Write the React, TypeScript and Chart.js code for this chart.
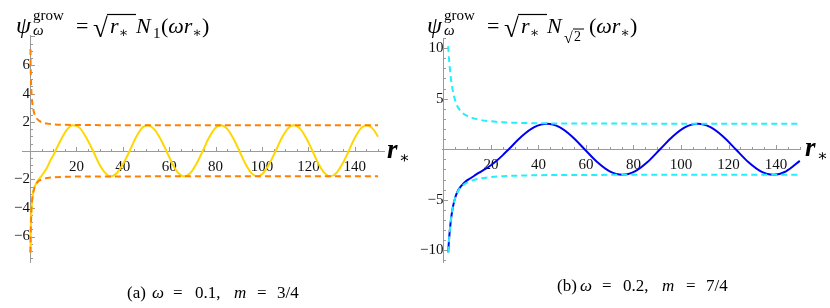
import React, { useEffect, useRef } from 'react';
import { Chart, registerables } from 'chart.js';

Chart.register(...registerables);

// ---------- Panel (a) ----------
const R_A = [0.2, 0.3, 0.5, 0.75, 1, 1.5, 2, 3, 4, 5, 6, 7.5, 9, 10, 10.98, 13.45, 15.93, 18.4, 21.3, 24.2, 27.15, 29.7, 32.2, 34.7, 37.46, 40.22, 42.98, 45.52, 48.06, 50.6, 53.32, 56.03, 58.75, 61.3, 63.85, 66.4, 69.1, 71.8, 74.49, 77.06, 79.63, 82.2, 84.87, 87.53, 90.2, 92.77, 95.33, 97.9, 100.57, 103.23, 105.9, 108.5, 111.1, 113.7, 116.37, 119.03, 121.7, 124.27, 126.83, 129.4, 132.07, 134.73, 137.4, 139.97, 142.53, 145.1, 147.7, 150];
const PSI_A = [-7.12, -5.81, -4.57, -3.78, -3.32, -2.81, -2.52, -2.18, -1.96, -1.75, -1.52, -1.13, -0.6, -0.34, 0, 0.81, 1.48, 1.79, 1.62, 0.93, 0, -0.89, -1.51, -1.79, -1.55, -0.89, 0, 0.89, 1.55, 1.785, 1.55, 0.89, 0, -0.89, -1.55, -1.785, -1.55, -0.89, 0, 0.89, 1.55, 1.785, 1.55, 0.89, 0, -0.89, -1.55, -1.785, -1.55, -0.89, 0, 0.89, 1.55, 1.785, 1.55, 0.89, 0, -0.89, -1.55, -1.785, -1.55, -0.89, 0, 0.89, 1.55, 1.785, 1.55, 0.99];
const R_ENV_A = [0.2, 0.3, 0.5, 0.75, 1, 1.5, 2, 3, 4, 5, 7.5, 10, 15, 25, 50, 100, 150];
const ENV_UP_A = [7.12, 5.82, 4.57, 3.79, 3.33, 2.84, 2.53, 2.24, 2.09, 2.0, 1.9, 1.855, 1.82, 1.8, 1.79, 1.785, 1.784];
const ENV_LO_A = [-7.12, -5.82, -4.57, -3.79, -3.33, -2.84, -2.53, -2.24, -2.09, -2.0, -1.9, -1.855, -1.82, -1.8, -1.79, -1.785, -1.784];
const X_TICKS_A = [20, 40, 60, 80, 100, 120, 140];
const Y_TICKS_A = [-6, -4, -2, 2, 4, 6];

// ---------- Panel (b) ----------
const R_B = [2, 2.4, 3, 3.5, 4, 5, 6, 7, 8, 9.2, 11, 13, 15, 17.5, 20, 22.5, 25, 27.5, 32.87, 38.23, 43.6, 48.87, 54.13, 59.4, 64.7, 70.0, 75.3, 80.6, 85.9, 91.2, 96.5, 101.8, 107.1, 112.4, 117.7, 123.0, 128.3, 133.6, 138.9, 144.2, 150];
const PSI_B = [-10.2, -8.8, -7.3, -6.4, -5.7, -4.75, -4.15, -3.78, -3.5, -3.22, -2.92, -2.62, -2.32, -1.97, -1.58, -1.12, -0.58, 0, 1.26, 2.18, 2.52, 2.18, 1.26, 0, -1.26, -2.18, -2.52, -2.18, -1.26, 0, 1.26, 2.18, 2.52, 2.18, 1.26, 0, -1.26, -2.18, -2.52, -2.18, -1.15];
const R_ENV_B = [2, 2.4, 3, 3.5, 4, 5, 6, 7, 8, 9, 10, 12, 15, 20, 25, 30, 40, 60, 100, 150];
const ENV_UP_B = [10.2, 8.8, 7.3, 6.4, 5.72, 4.78, 4.2, 3.85, 3.6, 3.42, 3.3, 3.1, 2.92, 2.76, 2.67, 2.62, 2.57, 2.54, 2.53, 2.52];
const ENV_LO_B = [-10.2, -8.8, -7.3, -6.4, -5.72, -4.78, -4.2, -3.85, -3.6, -3.42, -3.3, -3.1, -2.92, -2.76, -2.67, -2.62, -2.57, -2.54, -2.53, -2.52];
const X_TICKS_B = [20, 40, 60, 80, 100, 120, 140];
const Y_TICKS_B = [-10, -5, 5, 10];

const AXIS_COLOR = '#9a9a9a';
const LABEL_COLOR = '#111';
const SERIF = "'Liberation Serif', 'DejaVu Serif', serif";

type Panel = {
  r: number[]; psi: number[]; rEnv: number[]; envUp: number[]; envLo: number[];
  xTicks: number[]; yTicks: number[];
  xMin: number; xMax: number; yMin: number; yMax: number;
  xMinor: number; xMajor: number; yMinor: number; yMajor: number;
  lineColor: string; envColor: string; yLabelPad: number;
  padding: { left: number; right: number; top: number; bottom: number };
};

const PANEL_A: Panel = {
  r: R_A, psi: PSI_A, rEnv: R_ENV_A, envUp: ENV_UP_A, envLo: ENV_LO_A,
  xTicks: X_TICKS_A, yTicks: Y_TICKS_A,
  xMin: -3.45, xMax: 153, yMin: -7.85, yMax: 8.1,
  xMinor: 5, xMajor: 20, yMinor: 0.5, yMajor: 2,
  lineColor: '#FFD700', envColor: '#FF8000', yLabelPad: 4,
  padding: { left: 22, right: 30, top: 35, bottom: 27 },
};

const PANEL_B: Panel = {
  r: R_B, psi: PSI_B, rEnv: R_ENV_B, envUp: ENV_UP_B, envLo: ENV_LO_B,
  xTicks: X_TICKS_B, yTicks: Y_TICKS_B,
  xMin: -0.6, xMax: 150.5, yMin: -11.25, yMax: 11.0,
  xMinor: 5, xMajor: 20, yMinor: 1, yMajor: 5,
  lineColor: '#0000F0', envColor: '#22EEFF', yLabelPad: 7,
  padding: { left: 27, right: 29, top: 38, bottom: 27 },
};

const zip = (xs: number[], ys: number[]) => xs.map((x, i) => ({ x, y: ys[i] }));
const fmt = (v: number) => (v < 0 ? '\u2212' + Math.abs(v) : String(v));

const axesPlugin = {
  id: 'mmaAxes',
  beforeDatasetsDraw(chart: any) {
    const { ctx, chartArea, scales } = chart;
    const xs = scales.x;
    const ys = scales.y;
    const p: Panel = chart.options.plugins.mmaAxes.panel;
    const x0 = Math.round(xs.getPixelForValue(0)) + 0.5;
    const y0 = Math.round(ys.getPixelForValue(0)) + 0.5;
    ctx.save();
    ctx.strokeStyle = AXIS_COLOR;
    ctx.lineWidth = 1;
    ctx.beginPath();
    ctx.moveTo(chartArea.left, y0);
    ctx.lineTo(chartArea.right, y0);
    ctx.moveTo(x0, chartArea.top);
    ctx.lineTo(x0, chartArea.bottom);
    const isMajor = (v: number, step: number) => Math.abs(v / step - Math.round(v / step)) < 1e-6;
    for (let k = Math.ceil(p.xMin / p.xMinor); k * p.xMinor <= p.xMax; k++) {
      const v = k * p.xMinor;
      if (Math.abs(v) < 1e-9) continue;
      const px = Math.round(xs.getPixelForValue(v)) + 0.5;
      const len = isMajor(v, p.xMajor) ? 4.5 : 2.5;
      ctx.moveTo(px, y0);
      ctx.lineTo(px, y0 - len);
    }
    for (let k = Math.ceil(p.yMin / p.yMinor); k * p.yMinor <= p.yMax; k++) {
      const v = k * p.yMinor;
      if (Math.abs(v) < 1e-9) continue;
      const py = Math.round(ys.getPixelForValue(v)) + 0.5;
      const len = isMajor(v, p.yMajor) ? 4.5 : 2.5;
      ctx.moveTo(x0, py);
      ctx.lineTo(x0 + len, py);
    }
    ctx.stroke();
    ctx.restore();
  },
};

function makeConfig(p: Panel): any {
  const common = { pointRadius: 0, fill: false, cubicInterpolationMode: 'monotone', borderCapStyle: 'butt' };
  return {
    type: 'line',
    data: {
      datasets: [
        { ...common, data: zip(p.rEnv, p.envUp), borderColor: p.envColor, borderWidth: 2, borderDash: [6, 4] },
        { ...common, data: zip(p.rEnv, p.envLo), borderColor: p.envColor, borderWidth: 2, borderDash: [6, 4] },
        { ...common, data: zip(p.r, p.psi), borderColor: p.lineColor, borderWidth: 2 },
      ],
    },
    options: {
      responsive: false,
      animation: false,
      devicePixelRatio: 1,
      events: [],
      layout: { padding: p.padding },
      plugins: {
        legend: { display: false },
        tooltip: { enabled: false },
        title: { display: false },
        mmaAxes: { panel: p },
      },
      scales: {
        x: {
          type: 'linear',
          min: p.xMin,
          max: p.xMax,
          position: { y: 0 },
          grid: { display: false, drawTicks: false },
          border: { display: false },
          afterBuildTicks: (s: any) => { s.ticks = p.xTicks.map((value) => ({ value })); },
          ticks: {
            font: { family: SERIF, size: 15 },
            color: LABEL_COLOR,
            padding: 7,
            maxRotation: 0,
            autoSkip: false,
            callback: (v: any) => fmt(Number(v)),
          },
        },
        y: {
          type: 'linear',
          min: p.yMin,
          max: p.yMax,
          position: { x: 0 },
          grid: { display: false, drawTicks: false },
          border: { display: false },
          afterBuildTicks: (s: any) => { s.ticks = p.yTicks.map((value) => ({ value })); },
          ticks: {
            font: { family: SERIF, size: 15 },
            color: LABEL_COLOR,
            padding: p.yLabelPad,
            autoSkip: false,
            callback: (v: any) => fmt(Number(v)),
          },
        },
      },
    },
    plugins: [axesPlugin],
  };
}

function PanelChart({ panel, left }: { panel: Panel; left: number }) {
  const ref = useRef<HTMLCanvasElement | null>(null);
  useEffect(() => {
    if (!ref.current) return;
    const chart = new Chart(ref.current, makeConfig(panel));
    return () => chart.destroy();
  }, [panel]);
  return (
    <canvas
      ref={ref}
      width={415}
      height={290}
      style={{ position: 'absolute', left, top: 0, width: 415, height: 290 }}
    />
  );
}

const T = { fill: '#000' } as const;
const svgStyle = { fontFamily: SERIF };

function Overlay() {
  return (
    <svg width={830} height={308} style={{ position: 'absolute', left: 0, top: 0, pointerEvents: 'none', ...svgStyle }}>
      {/* Title (a) */}
      <text {...T} x={16} y={33} fontSize={24} fontStyle="italic">ψ</text>
      <text {...T} x={33} y={20} fontSize={15}>grow</text>
      <text {...T} x={33} y={35} fontSize={15} fontStyle="italic">ω</text>
      <text {...T} x={76} y={33} fontSize={22}>=</text>
      <text {...T} x={93} y={37} fontSize={27}>√</text>
      <line x1={107} x2={136} y1={14.5} y2={14.5} stroke="#000" strokeWidth={1.2} />
      <text {...T} x={110} y={33} fontSize={22} fontStyle="italic">r</text>
      <text {...T} x={119} y={37} fontSize={14}>∗</text>
      <text {...T} x={136} y={33} fontSize={22} fontStyle="italic">N</text>
      <text {...T} x={153} y={38} fontSize={15}>1</text>
      <text {...T} x={161} y={33} fontSize={22}>(<tspan fontStyle="italic">ωr</tspan><tspan fontSize={14} dy={4}>∗</tspan><tspan dy={-4}>)</tspan></text>

      {/* Title (b) */}
      <text {...T} x={427} y={33} fontSize={24} fontStyle="italic">ψ</text>
      <text {...T} x={444} y={20} fontSize={15}>grow</text>
      <text {...T} x={444} y={35} fontSize={15} fontStyle="italic">ω</text>
      <text {...T} x={487} y={33} fontSize={22}>=</text>
      <text {...T} x={504} y={37} fontSize={27}>√</text>
      <line x1={518} x2={547} y1={14.5} y2={14.5} stroke="#000" strokeWidth={1.2} />
      <text {...T} x={521} y={33} fontSize={22} fontStyle="italic">r</text>
      <text {...T} x={530} y={37} fontSize={14}>∗</text>
      <text {...T} x={547} y={33} fontSize={22} fontStyle="italic">N</text>
      <text {...T} x={564} y={43} fontSize={16}>√</text>
      <line x1={573} x2={584} y1={29} y2={29} stroke="#000" strokeWidth={1} />
      <text {...T} x={574} y={41} fontSize={14}>2</text>
      <text {...T} x={589} y={33} fontSize={22}>(<tspan fontStyle="italic">ωr</tspan><tspan fontSize={14} dy={4}>∗</tspan><tspan dy={-4}>)</tspan></text>

      {/* axis labels r* */}
      <text {...T} x={387} y={158} fontSize={27} fontStyle="italic" fontWeight="bold">r</text>
      <text {...T} x={399} y={163} fontSize={16}>∗</text>
      <text {...T} x={805} y={156} fontSize={27} fontStyle="italic" fontWeight="bold">r</text>
      <text {...T} x={817} y={161} fontSize={16}>∗</text>

      {/* captions */}
      <text {...T} x={127} y={298} fontSize={17}>(a)</text>
      <text {...T} x={152} y={298} fontSize={17} fontStyle="italic">ω</text>
      <text {...T} x={173} y={298} fontSize={17}>=</text>
      <text {...T} x={195} y={298} fontSize={17}>0.1,</text>
      <text {...T} x={234} y={298} fontSize={17} fontStyle="italic">m</text>
      <text {...T} x={257} y={298} fontSize={17}>=</text>
      <text {...T} x={277} y={298} fontSize={17}>3/4</text>

      <text {...T} x={557} y={291} fontSize={17}>(b)</text>
      <text {...T} x={580} y={291} fontSize={17} fontStyle="italic">ω</text>
      <text {...T} x={602} y={291} fontSize={17}>=</text>
      <text {...T} x={623} y={291} fontSize={17}>0.2,</text>
      <text {...T} x={662} y={291} fontSize={17} fontStyle="italic">m</text>
      <text {...T} x={686} y={291} fontSize={17}>=</text>
      <text {...T} x={706} y={291} fontSize={17}>7/4</text>
    </svg>
  );
}

export default function App() {
  return (
    <div style={{ position: 'absolute', left: 0, top: 0, width: 830, height: 308, background: '#fff', overflow: 'hidden' }}>
      <PanelChart panel={PANEL_A} left={0} />
      <PanelChart panel={PANEL_B} left={415} />
      <Overlay />
    </div>
  );
}
